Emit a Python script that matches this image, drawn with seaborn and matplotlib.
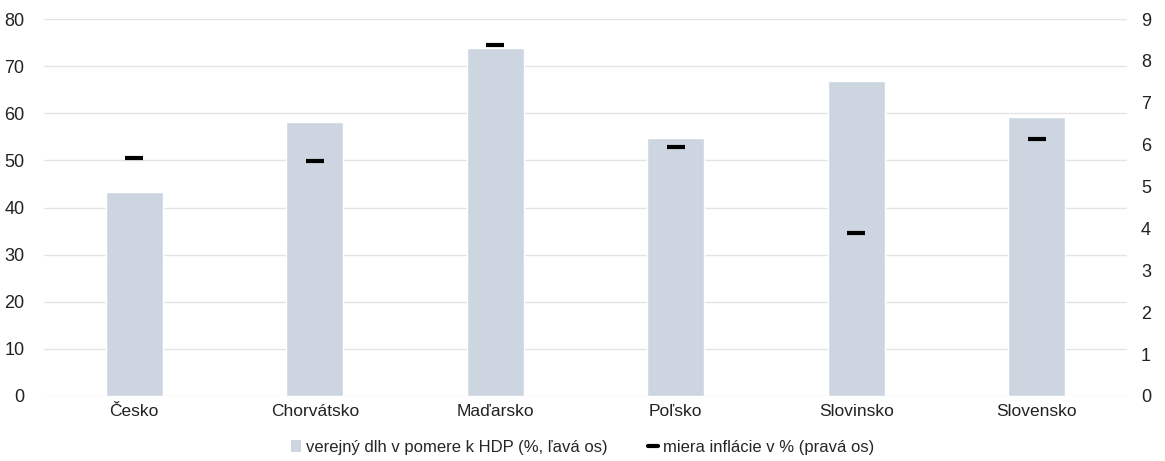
import matplotlib
matplotlib.use("Agg")
import matplotlib.pyplot as plt
import seaborn as sns
import pandas as pd
from matplotlib import font_manager
from matplotlib.lines import Line2D
from matplotlib.patches import Patch

countries = ["Česko", "Chorvátsko", "Maďarsko", "Poľsko", "Slovinsko", "Slovensko"]
debt = [43.3, 58.2, 73.9, 54.8, 66.9, 59.1]
inflation = [5.67, 5.60, 8.37, 5.95, 3.90, 6.14]
left_ticks = [0, 10, 20, 30, 40, 50, 60, 70, 80]
right_ticks = [0, 1, 2, 3, 4, 5, 6, 7, 8, 9]

debt_label = "verejný dlh v pomere k HDP (%, ľavá os)"
infl_label = "miera inflácie v % (pravá os)"

sns.set_theme(style="white")
names = {f.name for f in font_manager.fontManager.ttflist}
family = ["Liberation Sans Narrow"] if "Liberation Sans Narrow" in names else []
plt.rcParams["font.family"] = family + ["Liberation Sans", "DejaVu Sans"]

df = pd.DataFrame({"country": countries, "debt": debt, "inflation": inflation})

fig = plt.figure(figsize=(11.65, 4.61), dpi=100)
ax = fig.add_axes([44 / 1165, 1 - 396 / 461, (1127 - 44) / 1165, (396 - 19) / 461])

bar_color = "#CCD5E0"
sns.barplot(data=df, x="country", y="debt", ax=ax, color=bar_color, width=0.315,
            saturation=1, zorder=2)
ax.set_ylim(0, 80)
ax.set_yticks(left_ticks)
ax.set_xlim(-0.5, len(countries) - 0.5)
ax.yaxis.grid(True, color="#E4E4E4", linewidth=1, zorder=0)
ax.set_axisbelow(True)
for s in ax.spines.values():
    s.set_visible(False)
ax.set_xlabel("")
ax.set_ylabel("")
ax.tick_params(axis="y", labelsize=13, pad=14, length=0, labelcolor="#222222")
ax.tick_params(axis="x", labelsize=12.5, pad=6, length=0, labelcolor="#222222")

ax2 = ax.twinx()
sns.scatterplot(data=df, x="country", y="inflation", ax=ax2, marker="_", s=150,
                linewidth=3, color="black", zorder=3, legend=False)
ax2.set_ylim(0, 9)
ax2.set_yticks(right_ticks)
for s in ax2.spines.values():
    s.set_visible(False)
ax2.set_ylabel("")
ax2.tick_params(axis="y", labelsize=13, pad=10, length=0, labelcolor="#222222")
ax2.grid(False)

handles = [
    Patch(facecolor=bar_color, edgecolor="none", label=debt_label),
    Line2D([0], [0], color="black", linewidth=3, label=infl_label),
]
fig.legend(handles=handles, loc="center", bbox_to_anchor=(0.5, 1 - 447 / 461), ncol=2,
           frameon=False, fontsize=12, handlelength=0.6, handleheight=0.7,
           columnspacing=2.4, handletextpad=0.3)

fig.savefig("out.png", dpi=100)
